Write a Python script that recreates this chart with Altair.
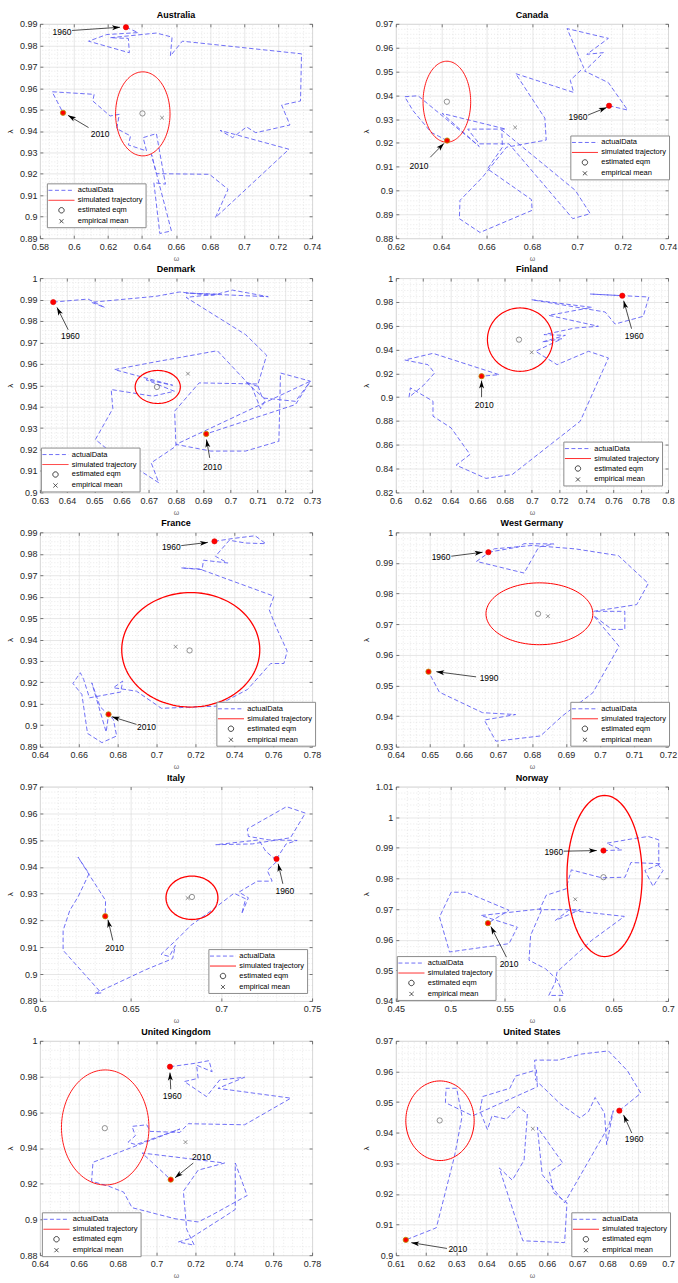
import math
import altair as alt
import numpy as np
import pandas as pd

FONT = "Liberation Sans"
INK = "#262626"
BLUE = "#5f5ff5"
PW, PH = 273, 215

countries = ["Australia", "Canada", "Denmark", "Finland", "France",
             "West Germany", "Italy", "Norway", "United Kingdom", "United States"]

x_domain = [[0.58, 0.74], [0.62, 0.74], [0.63, 0.73], [0.6, 0.8], [0.64, 0.78],
            [0.64, 0.72], [0.6, 0.75], [0.45, 0.7], [0.64, 0.78], [0.61, 0.7]]
y_domain = [[0.89, 0.99], [0.88, 0.97], [0.9, 1.0], [0.82, 1.0], [0.89, 0.99],
            [0.93, 1.0], [0.89, 0.97], [0.94, 1.01], [0.88, 1.0], [0.9, 0.97]]
x_step = [0.02, 0.02, 0.01, 0.02, 0.02, 0.01, 0.05, 0.05, 0.02, 0.01]
y_step = [0.01, 0.01, 0.01, 0.02, 0.01, 0.01, 0.01, 0.01, 0.02, 0.01]

# ---- actual data trajectories (omega, lambda) ----
aus_w = [0.6306, 0.6378, 0.6193, 0.6086, 0.6326, 0.632, 0.6213, 0.6485, 0.6577, 0.6567, 0.6637, 0.7338, 0.7332, 0.7221, 0.727, 0.7069, 0.7015, 0.6933, 0.6859, 0.7264, 0.6832, 0.6906, 0.6797, 0.6485, 0.6456, 0.6573, 0.6505, 0.647, 0.6538, 0.6485, 0.6407, 0.6427, 0.632, 0.6333, 0.6252, 0.6267, 0.6213, 0.6111, 0.6119, 0.5872, 0.5936]
aus_l = [0.9884, 0.9859, 0.985, 0.9819, 0.9765, 0.9832, 0.9835, 0.9857, 0.9838, 0.975, 0.9819, 0.976, 0.954, 0.9521, 0.9428, 0.9392, 0.9419, 0.9369, 0.9403, 0.9315, 0.8996, 0.9128, 0.9198, 0.9201, 0.9291, 0.8934, 0.8922, 0.9159, 0.9152, 0.9388, 0.9369, 0.9307, 0.9335, 0.9377, 0.9411, 0.9478, 0.947, 0.954, 0.9571, 0.9583, 0.9485]
can_w = [0.714, 0.7222, 0.7137, 0.7032, 0.7115, 0.7042, 0.7137, 0.6955, 0.7028, 0.6969, 0.6984, 0.6728, 0.6857, 0.6863, 0.6688, 0.6582, 0.6483, 0.648, 0.6571, 0.6801, 0.6798, 0.6604, 0.667, 0.6667, 0.6991, 0.7057, 0.698, 0.6699, 0.6568, 0.6517, 0.6685, 0.6404, 0.6568, 0.6298, 0.6239, 0.6276, 0.6356, 0.6426]
can_l = [0.9356, 0.9338, 0.9453, 0.9502, 0.9579, 0.9572, 0.9639, 0.968, 0.9516, 0.9463, 0.9412, 0.9491, 0.9304, 0.9212, 0.9182, 0.9056, 0.8959, 0.8882, 0.8824, 0.8917, 0.8962, 0.9091, 0.9182, 0.9254, 0.9001, 0.8903, 0.8882, 0.9196, 0.9196, 0.9258, 0.9258, 0.9324, 0.9185, 0.9398, 0.9394, 0.9335, 0.9244, 0.921]
den_w = [0.6349, 0.6477, 0.6538, 0.6489, 0.6727, 0.6812, 0.6934, 0.7007, 0.7139, 0.6837, 0.6952, 0.6837, 0.7056, 0.7133, 0.7099, 0.7056, 0.7129, 0.7111, 0.708, 0.6952, 0.6724, 0.6574, 0.6788, 0.669, 0.6794, 0.6715, 0.6562, 0.6568, 0.6504, 0.6556, 0.6737, 0.6709, 0.68, 0.6795, 0.6885, 0.7099, 0.7117, 0.7239, 0.7294, 0.7184, 0.7178, 0.7056, 0.6928, 0.68, 0.7294, 0.7239, 0.6911]
den_l = [0.9888, 0.9902, 0.9863, 0.9887, 0.9915, 0.9935, 0.9919, 0.9944, 0.9913, 0.993, 0.9925, 0.991, 0.9736, 0.964, 0.9495, 0.9516, 0.9433, 0.9391, 0.9488, 0.9661, 0.9609, 0.9573, 0.95, 0.9526, 0.9472, 0.9449, 0.948, 0.9391, 0.9247, 0.9193, 0.9045, 0.9138, 0.9216, 0.9379, 0.9511, 0.9506, 0.9441, 0.9425, 0.9519, 0.9557, 0.9239, 0.9193, 0.9193, 0.9224, 0.9519, 0.941, 0.9273]
fin_w = [0.7664, 0.7428, 0.7859, 0.7818, 0.7611, 0.7538, 0.6998, 0.744, 0.7124, 0.7489, 0.7319, 0.7088, 0.7246, 0.7075, 0.7221, 0.7027, 0.7185, 0.7416, 0.7562, 0.7355, 0.6856, 0.6662, 0.6443, 0.6545, 0.6406, 0.6273, 0.6273, 0.6107, 0.6097, 0.6204, 0.6285, 0.6236, 0.6066, 0.6273, 0.6759, 0.663]
fin_l = [0.9852, 0.9866, 0.9841, 0.9679, 0.9614, 0.9715, 0.9818, 0.9754, 0.9687, 0.9595, 0.9581, 0.9525, 0.9519, 0.9463, 0.9491, 0.9385, 0.9273, 0.9385, 0.9329, 0.8798, 0.8351, 0.8318, 0.8429, 0.8519, 0.8742, 0.884, 0.8966, 0.9078, 0.9, 0.91, 0.9203, 0.9273, 0.9312, 0.9368, 0.9189, 0.9176]
fra_w = [0.7298, 0.7391, 0.7507, 0.7562, 0.7459, 0.7374, 0.7303, 0.7366, 0.7241, 0.7235, 0.7127, 0.7221, 0.7604, 0.7579, 0.7613, 0.7672, 0.7655, 0.7587, 0.7468, 0.7306, 0.7025, 0.6897, 0.6778, 0.6826, 0.6816, 0.6655, 0.6625, 0.6608, 0.657, 0.6616, 0.6645, 0.6719, 0.6795, 0.6778, 0.671, 0.6667, 0.6741, 0.6753]
fra_l = [0.9858, 0.9871, 0.9884, 0.9847, 0.985, 0.9863, 0.9788, 0.9757, 0.977, 0.9726, 0.9734, 0.9729, 0.9602, 0.954, 0.9462, 0.9346, 0.9288, 0.9288, 0.9167, 0.9089, 0.9079, 0.9159, 0.9175, 0.9206, 0.9155, 0.9128, 0.9214, 0.9245, 0.9195, 0.9144, 0.8962, 0.8919, 0.895, 0.9027, 0.9086, 0.9198, 0.8968, 0.9051]
wg_w = [0.6672, 0.676, 0.6777, 0.6864, 0.682, 0.6777, 0.6637, 0.6689, 0.6801, 0.6927, 0.7054, 0.7142, 0.7108, 0.6981, 0.7073, 0.7073, 0.7035, 0.6981, 0.7056, 0.6979, 0.6889, 0.6825, 0.6694, 0.666, 0.6752, 0.6655, 0.6528, 0.6496]
wg_l = [0.9935, 0.9952, 0.9963, 0.9962, 0.9952, 0.9867, 0.9905, 0.9946, 0.9957, 0.9946, 0.9924, 0.9833, 0.9764, 0.9742, 0.9742, 0.9683, 0.9683, 0.9728, 0.9628, 0.9476, 0.94, 0.9335, 0.9318, 0.9387, 0.9405, 0.9411, 0.9478, 0.9545]
ita_w = [0.7304, 0.7357, 0.7418, 0.7262, 0.7149, 0.7143, 0.7359, 0.7463, 0.7381, 0.7171, 0.6969, 0.7207, 0.7244, 0.7308, 0.7253, 0.728, 0.7198, 0.7097, 0.7149, 0.7112, 0.7134, 0.707, 0.6951, 0.6832, 0.6768, 0.6668, 0.6713, 0.6746, 0.6732, 0.6585, 0.6302, 0.6338, 0.6128, 0.6128, 0.6165, 0.621, 0.6271, 0.621, 0.6362, 0.636]
ita_l = [0.943, 0.9486, 0.9499, 0.9501, 0.9514, 0.9542, 0.9625, 0.9601, 0.9509, 0.9486, 0.9483, 0.9501, 0.9459, 0.9422, 0.9387, 0.9347, 0.9347, 0.9306, 0.9285, 0.9225, 0.9281, 0.9302, 0.924, 0.9182, 0.9138, 0.9074, 0.9066, 0.9107, 0.9058, 0.9017, 0.8927, 0.893, 0.9089, 0.9163, 0.9238, 0.9288, 0.9375, 0.9437, 0.9275, 0.9216]
nor_w = [0.6407, 0.6574, 0.6437, 0.6666, 0.6818, 0.6915, 0.6915, 0.6954, 0.6863, 0.6787, 0.6933, 0.6659, 0.6605, 0.6392, 0.6112, 0.6063, 0.5881, 0.582, 0.6194, 0.5966, 0.6088, 0.6599, 0.63, 0.5981, 0.5966, 0.5905, 0.6042, 0.5981, 0.5875, 0.5723, 0.5738, 0.5844, 0.5282, 0.5616, 0.554, 0.4993, 0.4901, 0.5008, 0.5145, 0.554, 0.5346]
nor_l = [0.9891, 0.9893, 0.9915, 0.9929, 0.9937, 0.9926, 0.9842, 0.9826, 0.9774, 0.9826, 0.9848, 0.9852, 0.9804, 0.9802, 0.9828, 0.9766, 0.9745, 0.9698, 0.9698, 0.9663, 0.9696, 0.9676, 0.9598, 0.9495, 0.9462, 0.9418, 0.9418, 0.947, 0.9505, 0.9533, 0.9614, 0.9701, 0.9679, 0.9641, 0.9587, 0.956, 0.9674, 0.9755, 0.9755, 0.9696, 0.9654]
uk_w = [0.7069, 0.7197, 0.727, 0.7286, 0.7206, 0.7214, 0.7143, 0.7257, 0.7325, 0.7453, 0.7316, 0.7691, 0.7453, 0.7163, 0.712, 0.6967, 0.695, 0.6874, 0.6891, 0.6853, 0.6894, 0.712, 0.6673, 0.6666, 0.6754, 0.6831, 0.6874, 0.7095, 0.7214, 0.7282, 0.7466, 0.7405, 0.7405, 0.7359, 0.7172, 0.7112, 0.7194, 0.7155, 0.7138, 0.7214, 0.735, 0.6925, 0.7073]
uk_l = [0.9855, 0.9874, 0.9889, 0.9827, 0.9864, 0.979, 0.9772, 0.9688, 0.9781, 0.9796, 0.9734, 0.9679, 0.953, 0.9536, 0.9487, 0.9493, 0.953, 0.9521, 0.9469, 0.9432, 0.9419, 0.9506, 0.932, 0.9214, 0.9186, 0.9153, 0.9066, 0.9004, 0.8986, 0.9023, 0.9134, 0.9316, 0.9056, 0.9023, 0.8893, 0.8874, 0.8856, 0.8945, 0.9158, 0.9276, 0.9316, 0.9372, 0.9223]
us_w = [0.6839, 0.691, 0.6866, 0.6803, 0.6715, 0.6637, 0.6559, 0.6562, 0.6644, 0.6709, 0.6737, 0.6759, 0.679, 0.6797, 0.6819, 0.6803, 0.6658, 0.6584, 0.6568, 0.6652, 0.6608, 0.6622, 0.6666, 0.6658, 0.652, 0.6442, 0.6485, 0.6524, 0.6535, 0.6505, 0.6466, 0.6418, 0.6403, 0.6378, 0.6387, 0.6477, 0.6496, 0.6565, 0.6568, 0.6354, 0.6264, 0.6266, 0.6301, 0.6319, 0.6294, 0.6234, 0.6223, 0.6133]
us_l = [0.9472, 0.9529, 0.9602, 0.9667, 0.9657, 0.9637, 0.9637, 0.9572, 0.9494, 0.9448, 0.9469, 0.9515, 0.9464, 0.9361, 0.9472, 0.942, 0.9171, 0.9263, 0.9418, 0.9301, 0.9271, 0.9204, 0.9171, 0.9041, 0.9047, 0.9285, 0.9245, 0.931, 0.9462, 0.9485, 0.9444, 0.9455, 0.941, 0.9471, 0.9518, 0.9545, 0.9585, 0.9605, 0.955, 0.9455, 0.9498, 0.9545, 0.9545, 0.9453, 0.9323, 0.909, 0.9085, 0.905]

traj_w = [aus_w, can_w, den_w, fin_w, fra_w, wg_w, ita_w, nor_w, uk_w, us_w]
traj_l = [aus_l, can_l, den_l, fin_l, fra_l, wg_l, ita_l, nor_l, uk_l, us_l]

# estimated equilibrium and empirical mean
eqm_w = [0.6403, 0.6425, 0.673, 0.6905, 0.717, 0.6818, 0.6838, 0.6407, 0.6734, 0.6245]
eqm_l = [0.9482, 0.9373, 0.9492, 0.9483, 0.9349, 0.9734, 0.9288, 0.9804, 0.9511, 0.944]
mean_w = [0.6518, 0.6726, 0.6844, 0.6998, 0.7098, 0.6847, 0.6814, 0.6148, 0.7149, 0.6553]
mean_l = [0.9462, 0.9265, 0.9554, 0.9377, 0.9366, 0.9726, 0.9284, 0.9732, 0.9433, 0.9413]

# simulated trajectory (closed orbit): centre and semi-axes
orbit_cw = [0.6405, 0.6425, 0.6733, 0.6913, 0.7176, 0.6822, 0.6838, 0.6417, 0.6736, 0.6246]
orbit_cl = [0.948, 0.9373, 0.9492, 0.9483, 0.9352, 0.9734, 0.9285, 0.9808, 0.9515, 0.9439]
orbit_rw = [0.016, 0.0105, 0.0083, 0.024, 0.0355, 0.0157, 0.0143, 0.0345, 0.0225, 0.0113]
orbit_rl = [0.0196, 0.017, 0.0077, 0.0266, 0.0267, 0.0101, 0.0081, 0.0263, 0.0322, 0.013]
orbit_lw = [0.9, 0.9, 1.2, 1.2, 1.3, 1.0, 1.3, 1.3, 0.9, 1.0]

# year labels: (first year, last year)
end_years = [["1960", "2010"]] * 5 + [["1960", "1990"]] + [["1960", "2010"]] * 4

# annotations: text position, arrow tail, arrow tip
ann_text_w = [[0.593, 0.6154], [0.7003, 0.6302], [0.6412, 0.6934], [0.7752, 0.665], [0.7076, 0.6948],
              [0.6533, 0.6674], [0.735, 0.6412], [0.5951, 0.554], [0.7081, 0.7231], [0.6888, 0.6305]]
ann_text_l = [[0.9863, 0.9388], [0.931, 0.9105], [0.9731, 0.912], [0.9516, 0.8938], [0.9832, 0.8993],
              [0.992, 0.9525], [0.931, 0.9099], [0.9886, 0.9522], [0.9693, 0.935], [0.9379, 0.902]]
ann_tail_w = [[0.5989, 0.6086], [0.7047, 0.6352], [0.6404, 0.6924], [0.7732, 0.663], [0.7127, 0.6897],
              [0.6563, 0.6636], [0.7339, 0.6402], [0.6042, 0.5516], [0.7073, 0.7189], [0.688, 0.6269]]
ann_tail_l = [[0.9869, 0.9416], [0.9317, 0.914], [0.9759, 0.9161], [0.9575, 0.9], [0.9838, 0.9004],
              [0.9922, 0.9528], [0.9337, 0.9126], [0.9889, 0.9543], [0.9729, 0.9316], [0.9399, 0.9022]]
ann_tip_w = [[0.6271, 0.5965], [0.713, 0.6412], [0.6363, 0.6912], [0.7674, 0.663], [0.7264, 0.677],
             [0.6655, 0.6519], [0.7313, 0.6375], [0.6346, 0.5373], [0.7069, 0.7095], [0.6853, 0.6151]]
ann_tip_l = [[0.9884, 0.9473], [0.9349, 0.9198], [0.9863, 0.9247], [0.981, 0.9139], [0.9853, 0.904],
             [0.9935, 0.9545], [0.9412, 0.9203], [0.9891, 0.9643], [0.9822, 0.9233], [0.9458, 0.9041]]

# legend placement inside each panel (pixels from the plot's top-left corner)
leg_x = [7, 175, 1, 168, 177, 175, 169, 1, 2, 176]
leg_y = [160, 112, 170, 164, 170, 170, 163, 170, 172, 172]

series = ["actualData", "simulated trajectory", "estimated eqm", "empirical mean"]
series_color = [BLUE, "#ff0000", INK, INK]
series_dash = [[4, 2.5], [1, 0], [1, 0], [1, 0]]
series_shape = ["M-1.2,0L4.6,0", "M-1.2,0L4.6,0",
                "M1.1,0A0.6,0.6 0 1,0 2.3,0A0.6,0.6 0 1,0 1.1,0",
                "M1.25,-0.45L2.15,0.45M1.25,0.45L2.15,-0.45"]

XSHAPE = "M-1,-1L1,1M-1,1L1,-1"
ARROW = "M0,0L-0.625,2L0,1.5L0.625,2Z"


def tick_values(lo, hi, step):
    n = int(round((hi - lo) / step))
    return [round(lo + k * step, 4) for k in range(n + 1)]


def minor_values(lo, hi, step):
    sub = 4 if abs(step - 0.02) < 1e-9 else 5
    ms = step / sub
    n = int(round((hi - lo) / ms))
    return [round(lo + k * ms, 5) for k in range(n + 1) if k % sub != 0]


def make_panel(i):
    name = countries[i]
    xd, yd = x_domain[i], y_domain[i]
    xs = alt.Scale(domain=xd, nice=False, zero=False)
    ys = alt.Scale(domain=yd, nice=False, zero=False)
    xt = tick_values(xd[0], xd[1], x_step[i])
    yt = tick_values(yd[0], yd[1], y_step[i])
    xm = minor_values(xd[0], xd[1], x_step[i])
    ym = minor_values(yd[0], yd[1], y_step[i])

    common = dict(labelFont=FONT, labelFontSize=9, labelColor=INK, labelFlush=False,
                  labelOverlap=False, tickColor=INK, tickWidth=0.6, tickSize=3, offset=-3,
                  domain=False, grid=True, gridColor="#d6d6d6", gridWidth=0.6,
                  titleFont=FONT, titleFontWeight="normal")
    ax_x = alt.Axis(orient="bottom", values=xt, format="~g", labelPadding=4,
                    title="ω", titleFontSize=7, titleColor="#666666", titlePadding=3, **common)
    ax_y = alt.Axis(orient="left", values=yt, format="~g", labelPadding=3,
                    title="λ", titleFontSize=8, titleColor=INK, titlePadding=5, **common)
    minor_common = dict(grid=True, gridDash=[1, 2], gridColor="#d2d2d2", gridWidth=0.5,
                        labels=False, ticks=False, domain=False, title=None)
    ax_xm = alt.Axis(orient="top", values=xm, **minor_common)
    ax_ym = alt.Axis(orient="right", values=ym, **minor_common)
    tick_common = dict(grid=False, labels=False, domain=False, title=None, tickSize=3,
                       offset=-3, tickColor=INK, tickWidth=0.6)
    ax_xt = alt.Axis(orient="top", values=xt, **tick_common)
    ax_yt = alt.Axis(orient="right", values=yt, **tick_common)

    def X(axis=None):
        return alt.X("w:Q", scale=xs, axis=axis)

    def Y(axis=None):
        return alt.Y("l:Q", scale=ys, axis=axis)

    traj = pd.DataFrame({"w": traj_w[i], "l": traj_l[i]})
    traj["t"] = np.arange(len(traj))
    traj_layer = alt.Chart(traj).mark_line(
        color=BLUE, strokeWidth=0.9, strokeDash=[4.5, 2.5]
    ).encode(x=X(ax_x), y=Y(ax_y), order="t:Q")

    th = np.linspace(0, 2 * np.pi, 121)
    orbit = pd.DataFrame({"w": orbit_cw[i] + orbit_rw[i] * np.cos(th),
                          "l": orbit_cl[i] + orbit_rl[i] * np.sin(th),
                          "t": np.arange(len(th))})
    orbit_layer = alt.Chart(orbit).mark_line(
        color="#ff0000", strokeWidth=orbit_lw[i]
    ).encode(x=X(ax_xm), y=Y(ax_ym), order="t:Q")

    eqm = pd.DataFrame({"w": [eqm_w[i]], "l": [eqm_l[i]]})
    eqm_layer = alt.Chart(eqm).mark_point(
        shape="circle", size=28, filled=False, color=INK, strokeWidth=0.7
    ).encode(x=X(ax_xt), y=Y(ax_yt))

    mean = pd.DataFrame({"w": [mean_w[i]], "l": [mean_l[i]]})
    mean_layer = alt.Chart(mean).mark_point(
        shape=XSHAPE, size=14, filled=False, color=INK, strokeWidth=0.7
    ).encode(x=X(), y=Y())

    first = pd.DataFrame({"w": [traj_w[i][0]], "l": [traj_l[i][0]]})
    last = pd.DataFrame({"w": [traj_w[i][-1]], "l": [traj_l[i][-1]]})
    first_layer = alt.Chart(first).mark_point(
        shape="circle", size=28, filled=True, fill="#ff0000", stroke="#e00000",
        strokeWidth=0.6, opacity=1
    ).encode(x=X(), y=Y())
    last_layer = alt.Chart(last).mark_point(
        shape="circle", size=28, filled=True, fill="#ff0000", stroke="#b39200",
        strokeWidth=0.8, opacity=1
    ).encode(x=X(), y=Y())

    def pxx(v):
        return (v - xd[0]) / (xd[1] - xd[0]) * PW

    def pyy(v):
        return (yd[1] - v) / (yd[1] - yd[0]) * PH

    rows = []
    for k in range(2):
        dx = pxx(ann_tip_w[i][k]) - pxx(ann_tail_w[i][k])
        dy = pyy(ann_tip_l[i][k]) - pyy(ann_tail_l[i][k])
        ang = math.degrees(math.atan2(dx, -dy)) % 360
        rows.append({"label": end_years[i][k],
                     "tw": ann_text_w[i][k], "tl": ann_text_l[i][k],
                     "w": ann_tail_w[i][k], "l": ann_tail_l[i][k],
                     "w2": ann_tip_w[i][k], "l2": ann_tip_l[i][k], "ang": ang})
    ann = pd.DataFrame(rows)
    rule_layer = alt.Chart(ann).mark_rule(color="#000000", strokeWidth=0.7).encode(
        x=X(), y=Y(), x2="w2:Q", y2="l2:Q")
    head_layer = alt.Chart(ann).mark_point(
        shape=ARROW, size=64, filled=True, color="#000000", strokeWidth=0, opacity=1
    ).encode(x=alt.X("w2:Q", scale=xs, axis=None), y=alt.Y("l2:Q", scale=ys, axis=None),
             angle=alt.Angle("ang:Q", scale=None))
    text_layer = alt.Chart(ann).mark_text(
        font=FONT, fontSize=8.5, color="#000000", align="center", baseline="middle"
    ).encode(x=alt.X("tw:Q", scale=xs, axis=None), y=alt.Y("tl:Q", scale=ys, axis=None),
             text="label:N")

    leg = alt.Legend(title=None, orient="none", legendX=leg_x[i], legendY=leg_y[i],
                     fillColor="white", strokeColor="#8c8c8c", padding=2,
                     symbolSize=81, symbolStrokeWidth=0.9, symbolOpacity=1,
                     symbolFillColor="transparent",
                     labelFont=FONT, labelFontSize=7.5, labelColor="#000000",
                     labelOffset=19, rowPadding=1, cornerRadius=0, offset=0, zindex=2)
    legdf = pd.DataFrame({"s": series, "w": [eqm_w[i]] * 4, "l": [eqm_l[i]] * 4})
    legend_layer = alt.Chart(legdf).mark_point(filled=False, opacity=0).encode(
        x=X(), y=Y(),
        color=alt.Color("s:N", scale=alt.Scale(domain=series, range=series_color), legend=leg),
        shape=alt.Shape("s:N", scale=alt.Scale(domain=series, range=series_shape), legend=leg),
        strokeDash=alt.StrokeDash("s:N", scale=alt.Scale(domain=series, range=series_dash), legend=leg),
    )

    return alt.layer(
        traj_layer, orbit_layer, eqm_layer, mean_layer, rule_layer, head_layer,
        first_layer, last_layer, text_layer, legend_layer
    ).resolve_axis(x="independent", y="independent").properties(
        width=PW, height=PH,
        title=alt.TitleParams(name, font=FONT, fontSize=9, fontWeight="bold",
                              color="#000000", offset=0, frame="group"),
    )


panels = [make_panel(i) for i in range(len(countries))]

chart = alt.concat(
    *panels, columns=2, spacing={"row": 40, "column": 84}, bounds="flush"
).resolve_scale(
    color="independent", shape="independent", strokeDash="independent"
).resolve_legend(
    color="independent", shape="independent", strokeDash="independent"
).configure_view(
    stroke=INK, strokeWidth=0.8
).configure(
    font=FONT, background="white"
).properties(
    padding={"left": 5, "top": 8, "right": 0, "bottom": 0}
)

chart.save("out.html", embed_options={"renderer": "svg", "actions": False})
